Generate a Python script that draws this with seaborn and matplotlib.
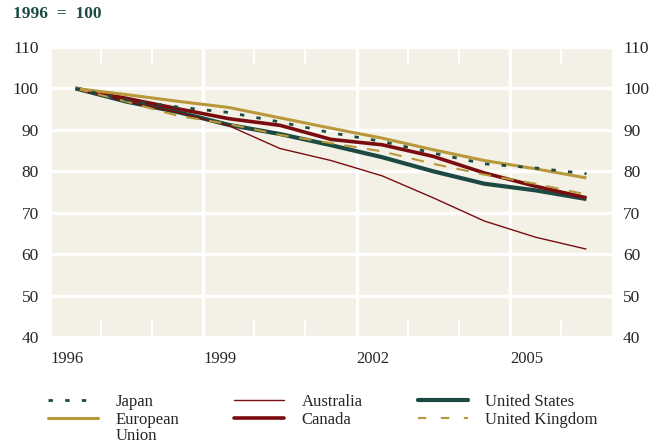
import pandas as pd
import numpy as np
import seaborn as sns
import matplotlib.pyplot as plt
from matplotlib.lines import Line2D

# index, 1996 = 100 (values read at mid-year)
years = list(range(1996, 2007))
japan = [100, 97.2, 95.5, 94.2, 91.9, 89.3, 87.2, 84.4, 81.8, 80.8, 79.4]
eu = [100, 98.5, 96.9, 95.4, 92.9, 90.4, 88.0, 85.2, 82.6, 80.6, 78.4]
australia = [100, 96.8, 94.2, 91.0, 85.5, 82.6, 78.9, 73.6, 68.0, 64.1, 61.2]
canada = [100, 97.6, 95.1, 92.7, 91.1, 87.7, 86.4, 83.6, 79.6, 76.4, 73.6]
us = [100, 96.8, 94.3, 91.2, 89.0, 86.3, 83.4, 80.0, 77.0, 75.4, 73.3]
uk = [100, 96.8, 93.4, 91.4, 88.8, 86.8, 84.8, 81.8, 79.2, 77.0, 74.4]

x_ticks = [1996, 1999, 2002, 2005]
y_ticks = [40, 50, 60, 70, 80, 90, 100, 110]

green = '#1c4a43'
gold = '#b8983a'
red = '#7a0c10'
bg = '#f3f1e5'

sns.set_style('white', {'axes.facecolor': bg})
plt.rcParams['font.family'] = ['Liberation Serif', 'DejaVu Serif']

fig = plt.figure(figsize=(6.62, 4.46), dpi=100)
ax = fig.add_axes([50 / 662, 109 / 446, 562 / 662, 290 / 446])

xs = np.array(years) + 0.5
series = [
    # label, values, color, width, dashes, zorder
    ('United States', us, green, 3.0, None, 3),
    ('Australia', australia, red, 1.0, None, 3),
    ('Canada', canada, red, 2.6, None, 4),
    ('European Union', eu, gold, 2.2, None, 4),
    ('United Kingdom', uk, gold, 1.5, (6, 5), 5),
    ('Japan', japan, green, 2.0, (1.6, 4.4), 6),
]
for name, vals, col, lw, dash, z in series:
    ls = '-' if dash is None else (0, dash)
    sns.lineplot(x=xs, y=vals, ax=ax, color=col, lw=lw, linestyle=ls,
                 zorder=z, solid_capstyle='butt')

ax.set_xlim(1996, 2007)
ax.set_ylim(40, 110)
ax.set_xticks(x_ticks)
ax.set_xticks([y for y in range(1997, 2007) if y not in x_ticks], minor=True)
ax.set_yticks(y_ticks)
ax.grid(True, which='major', color='white', lw=2.4)
ax.set_axisbelow(True)
for s in ax.spines.values():
    s.set_visible(False)

ax.tick_params(axis='x', which='major', length=0, pad=10, labelsize=12)
for lab in ax.get_xticklabels():
    lab.set_ha('left')
ax.tick_params(axis='x', which='minor', direction='in', length=12, width=1.5,
               color='white', top=True, bottom=True)
ax.tick_params(axis='y', which='major', length=0, pad=8, labelsize=12.5,
               left=True, right=True, labelleft=True, labelright=True)
ax.set_xlabel('')
ax.set_ylabel('')

fig.text(13 / 662, 1 - 14 / 446, '1996  =  100', color=green, fontsize=12.5,
         fontweight='semibold', va='center', ha='left')

handles = [
    Line2D([], [], color=green, lw=2.0, linestyle=(0, (1.6, 4.4))),
    Line2D([], [], color=gold, lw=2.2),
    Line2D([], [], color=red, lw=1.0),
    Line2D([], [], color=red, lw=2.6),
    Line2D([], [], color=green, lw=3.0),
    Line2D([], [], color=gold, lw=1.5, linestyle=(0, (4, 7))),
]
labels = ['Japan', 'European', 'Australia', 'Canada', 'United States', 'United Kingdom']
leg = fig.legend(handles, labels, ncol=3, loc='upper left',
                 bbox_to_anchor=(48 / 662, 1 - 394 / 446), frameon=False,
                 fontsize=12, handlelength=3.0, handletextpad=1.05,
                 columnspacing=3.3, labelspacing=0.1, borderpad=0,
                 borderaxespad=0)

fig.canvas.draw()
bb = leg.get_texts()[1].get_window_extent()
x0 = bb.x0 / fig.bbox.width
yc = (bb.y0 + bb.y1) / 2 / fig.bbox.height
fig.text(x0, yc - 16 / 446, 'Union', fontsize=12, ha='left', va='center')

fig.savefig('out.png', dpi=100)
plt.close()
